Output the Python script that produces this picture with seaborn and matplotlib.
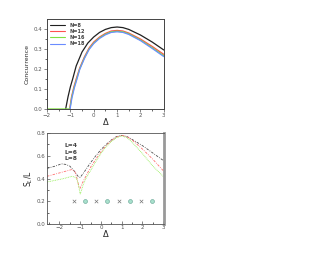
import numpy as np
import pandas as pd
from matplotlib import pyplot as plt
import seaborn as sns

# --- top panel: concurrence vs Delta ---
conc_x = {
    'N=8':  [-1.2, -1.1, -1.0, -0.9, -0.75, -0.5, -0.25, 0.0, 0.25, 0.5, 0.75, 1.0, 1.25, 1.5, 2.0, 2.5, 3.0],
    'N=12': [-1.03, -0.95, -0.85, -0.75, -0.6, -0.4, -0.2, 0.0, 0.25, 0.5, 0.75, 1.0, 1.25, 1.5, 2.0, 2.5, 3.0],
    'N=16': [-2.0, -1.02, -0.94, -0.84, -0.74, -0.6, -0.4, -0.2, 0.0, 0.25, 0.5, 0.75, 1.0, 1.25, 1.5, 2.0, 2.5, 3.0],
    'N=18': [-1.01, -0.93, -0.83, -0.73, -0.6, -0.4, -0.2, 0.0, 0.25, 0.5, 0.75, 1.0, 1.25, 1.5, 2.0, 2.5, 3.0],
}
conc_y = {
    'N=8':  [0.0, 0.06, 0.11, 0.15, 0.215, 0.285, 0.33, 0.36, 0.383, 0.398, 0.407, 0.41, 0.407, 0.398, 0.37, 0.335, 0.295],
    'N=12': [0.0, 0.06, 0.11, 0.15, 0.205, 0.26, 0.305, 0.335, 0.36, 0.378, 0.39, 0.393, 0.39, 0.38, 0.35, 0.313, 0.273],
    'N=16': [0.0, 0.0, 0.058, 0.107, 0.146, 0.2, 0.255, 0.3, 0.33, 0.356, 0.374, 0.386, 0.389, 0.386, 0.376, 0.345, 0.307, 0.266],
    'N=18': [0.0, 0.056, 0.105, 0.144, 0.197, 0.252, 0.297, 0.327, 0.353, 0.371, 0.383, 0.386, 0.383, 0.373, 0.342, 0.303, 0.262],
}
conc_colors = {'N=8': '#202020', 'N=12': '#ff5050', 'N=16': '#80e040', 'N=18': '#6a8cff'}

# --- bottom panel: S_L/L vs Delta ---
ent_x = {
    'L=4': [-2.6, -2.2, -1.9, -1.7, -1.5, -1.3, -1.1, -1.0, -0.8, -0.5, -0.25, 0.0, 0.25, 0.5, 0.75, 1.0, 1.25, 1.5, 2.0, 2.5, 3.0],
    'L=6': [-2.6, -2.2, -1.8, -1.4, -1.25, -1.15, -1.05, -1.0, -0.9, -0.7, -0.5, -0.25, 0.0, 0.25, 0.5, 0.75, 1.0, 1.25, 1.5, 2.0, 2.5, 3.0],
    'L=8': [-2.6, -2.2, -1.8, -1.4, -1.2, -1.1, -1.0, -0.95, -0.85, -0.7, -0.5, -0.25, 0.0, 0.25, 0.5, 0.75, 1.0, 1.25, 1.5, 2.0, 2.5, 3.0],
}
ent_y = {
    'L=4': [0.49, 0.51, 0.53, 0.525, 0.51, 0.47, 0.42, 0.41, 0.46, 0.54, 0.6, 0.655, 0.70, 0.74, 0.77, 0.78, 0.77, 0.745, 0.69, 0.625, 0.56],
    'L=6': [0.42, 0.44, 0.46, 0.48, 0.46, 0.40, 0.32, 0.315, 0.36, 0.43, 0.50, 0.57, 0.635, 0.69, 0.735, 0.765, 0.78, 0.77, 0.74, 0.66, 0.57, 0.47],
    'L=8': [0.37, 0.385, 0.40, 0.42, 0.41, 0.36, 0.265, 0.29, 0.35, 0.41, 0.47, 0.55, 0.62, 0.68, 0.725, 0.76, 0.775, 0.76, 0.72, 0.62, 0.51, 0.42],
}
ent_colors = {'L=4': '#505050', 'L=6': '#ff7070', 'L=8': '#90ee50'}

# stray markers along y ~ 0.2
cross_x = [-1.31, -0.22, 0.87, 1.93]
circle_x = [-0.78, 0.31, 1.4, 2.48]
marker_y = 0.2

conc_df = pd.DataFrame([(k, x, y) for k in conc_x for x, y in zip(conc_x[k], conc_y[k])],
                       columns=['series', 'delta', 'value'])
ent_df = pd.DataFrame([(k, x, y) for k in ent_x for x, y in zip(ent_x[k], ent_y[k])],
                      columns=['series', 'delta', 'value'])

sns.set_style('ticks')
plt.rcParams['font.family'] = ['DejaVu Sans']

fig = plt.figure(figsize=(3.33, 2.57), dpi=100)
ax1 = fig.add_axes([0.141, 0.576, 0.351, 0.350])
ax2 = fig.add_axes([0.141, 0.128, 0.351, 0.354])

# top
sns.lineplot(data=conc_df, x='delta', y='value', hue='series', palette=conc_colors,
             linewidth=0.9, ax=ax1, sort=False)
ax1.set_xlim(-2, 3)
ax1.set_ylim(0, 0.45)
ax1.set_xticks([-2, -1, 0, 1, 2, 3])
ax1.set_yticks([0.0, 0.1, 0.2, 0.3, 0.4])
ax1.set_yticklabels(['0.0', '0.1', '0.2', '0.3', '0.4'])
ax1.set_xticks(np.arange(-1.5, 3, 1), minor=True)
ax1.set_yticks(np.arange(0.05, 0.45, 0.1), minor=True)
ax1.tick_params(labelsize=4, length=2, width=0.5, pad=1, colors='#555555')
ax1.tick_params(which='minor', length=1.2, width=0.5)
ax1.set_xlabel('Δ', fontsize=6, labelpad=0)
ax1.set_ylabel('Concurrence', fontsize=4.5, labelpad=3)
for s in ax1.spines.values():
    s.set_linewidth(0.7)
    s.set_color('#444444')
leg = ax1.legend(loc='upper left', fontsize=3.6, frameon=False, handlelength=3,
                 labelspacing=0.25, borderaxespad=0.3)
for t in leg.get_texts():
    t.set_fontweight('bold')
    t.set_color('#444444')
for line in leg.get_lines():
    line.set_linewidth(0.8)

# bottom
sns.lineplot(data=ent_df, x='delta', y='value', hue='series', palette=ent_colors,
             style='series', dashes={'L=4': (3, 1.5, 1, 1.5), 'L=6': (3, 1.5, 1, 1.5), 'L=8': (1, 1)},
             linewidth=0.6, ax=ax2, sort=False)
sns.scatterplot(x=cross_x, y=[marker_y] * len(cross_x), marker='x', color='#777777',
                s=6, linewidth=0.5, ax=ax2)
sns.scatterplot(x=circle_x, y=[marker_y] * len(circle_x), marker='o', color='#a8e0cc',
                edgecolor='#60a090', s=8, linewidth=0.4, ax=ax2)
ax2.set_xlim(-2.6, 3.03)
ax2.set_ylim(0, 0.8)
ax2.set_xticks([-2, -1, 0, 1, 2, 3])
ax2.set_yticks([0.0, 0.2, 0.4, 0.6, 0.8])
ax2.set_yticklabels(['0.0', '0.2', '0.4', '0.6', '0.8'])
ax2.set_xticks(np.arange(-2.5, 3, 0.5), minor=True)
ax2.set_yticks(np.arange(0.1, 0.8, 0.2), minor=True)
ax2.tick_params(labelsize=4, length=2, width=0.5, pad=1, direction='in', colors='#555555')
ax2.tick_params(which='minor', length=1.2, width=0.5, direction='in')
ax2.set_xlabel('Δ', fontsize=6, labelpad=0)
ax2.set_ylabel('S$_L$/L', fontsize=5.5, labelpad=1)
for s in ax2.spines.values():
    s.set_linewidth(0.6)
    s.set_color('#555555')
ax2.spines['right'].set_linewidth(2)
ax2.spines['right'].set_color('#999999')
leg2 = ax2.legend(handles=[plt.Line2D([], [], linestyle='none') for _ in range(3)],
                  labels=['L=4', 'L=6', 'L=8'], loc='upper left', bbox_to_anchor=(0.1, 0.95),
                  fontsize=4.3, frameon=False, handlelength=0, handletextpad=0, labelspacing=0.2)
for t in leg2.get_texts():
    t.set_fontweight('bold')
    t.set_color('#444444')

fig.savefig('out.png', dpi=100)
